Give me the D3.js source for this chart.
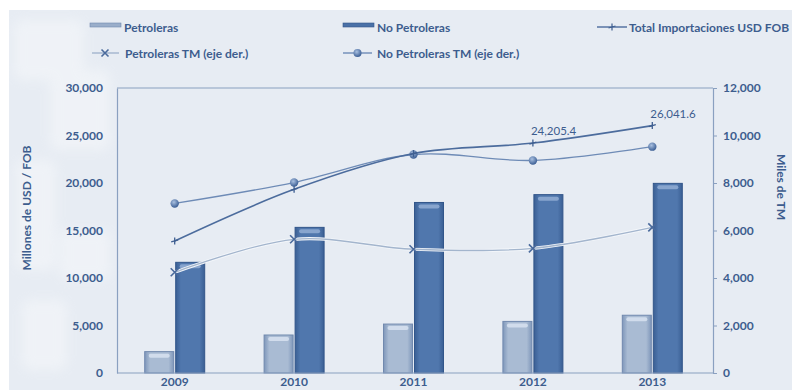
<!DOCTYPE html>
<html>
<head>
<meta charset="utf-8">
<script src="https://cdn.jsdelivr.net/npm/d3@7"></script>
<style>
  html, body { margin: 0; padding: 0; background: #ffffff; }
  svg { display: block; font-family: Lato, "Open Sans", sans-serif; }
</style>
</head>
<body>
<svg id="chart" width="792" height="390"></svg>
<script>
// Importaciones: valores en millones de USD FOB (eje izq.) y volumen en miles de TM (eje der.)
const years = ["2009", "2010", "2011", "2012", "2013"];
const petroleras = [2250, 4000, 5150, 5430, 6080];
const noPetroleras = [11650, 15330, 17950, 18775.4, 19961.6];
const totalUSD = [13900, 19330, 23100, 24205.4, 26041.6];
const petrolerasTM = [4240, 5630, 5210, 5250, 6130];
const noPetrolerasTM = [7140, 8020, 9200, 8950, 9530];
const labeledYears = ["2012", "2013"];
const leftTicks = [0, 5000, 10000, 15000, 20000, 25000, 30000];
const rightTicks = [0, 2000, 4000, 6000, 8000, 10000, 12000];

const svg = d3.select("#chart");
const W = 792, H = 390;
const plot = { left: 117, right: 713, top: 88, bottom: 373 };
const textColor = "#3d5d8e";
const axisColor = "#8aa0c0";

const defs = svg.append("defs");
defs.append("filter").attr("id", "soft").append("feGaussianBlur").attr("stdDeviation", 6);

// background panel
svg.append("rect").attr("width", W).attr("height", H).attr("fill", "#ffffff");
svg.append("rect").attr("x", 9).attr("y", 10).attr("width", W - 9).attr("height", H - 10).attr("fill", "#e7ecf3");

// faint decorative shapes on the left of the panel
const deco = svg.append("g").attr("fill", "#ffffff").attr("opacity", 0.35).attr("filter", "url(#soft)");
[[14, 20, 70, 60], [50, 70, 60, 80], [16, 160, 40, 110], [60, 230, 50, 50], [22, 300, 45, 70]].forEach(d => {
  deco.append("rect").attr("x", d[0]).attr("y", d[1]).attr("width", d[2]).attr("height", d[3]).attr("rx", 8);
});

function barGradient(id, edge, mid) {
  const g = defs.append("linearGradient").attr("id", id).attr("x1", 0).attr("x2", 1).attr("y1", 0).attr("y2", 0);
  g.append("stop").attr("offset", "0%").attr("stop-color", edge);
  g.append("stop").attr("offset", "18%").attr("stop-color", mid);
  g.append("stop").attr("offset", "82%").attr("stop-color", mid);
  g.append("stop").attr("offset", "100%").attr("stop-color", edge);
}
barGradient("gPet", "#7f97ba", "#a9bbd3");
barGradient("gNoPet", "#3a5f94", "#5077ad");
const sphere = defs.append("radialGradient").attr("id", "gSphere").attr("cx", "40%").attr("cy", "35%").attr("r", "65%");
sphere.append("stop").attr("offset", "0%").attr("stop-color", "#a9c0e0");
sphere.append("stop").attr("offset", "100%").attr("stop-color", "#3c5f95");

// scales
const x = d3.scaleBand().domain(years).range([115, 712]).paddingInner(0).paddingOuter(0);
const yL = d3.scaleLinear().domain([0, 30000]).range([plot.bottom, plot.top]);
const yR = d3.scaleLinear().domain([0, 12000]).range([plot.bottom, plot.top]);
const barW = 29, gap = 2;
const sub = d3.scaleOrdinal().domain(["pet", "nopet"]).range([-gap / 2 - barW, gap / 2]);

// plot frame
svg.append("line").attr("x1", plot.left).attr("x2", plot.right).attr("y1", plot.top).attr("y2", plot.top)
  .attr("stroke", axisColor).attr("stroke-width", 1.2);

// bars
const series = [
  { key: "pet", values: petroleras, fill: "url(#gPet)", stroke: "#7189ae", hi: "#d5e0ee" },
  { key: "nopet", values: noPetroleras, fill: "url(#gNoPet)", stroke: "#32568a", hi: "#8eaad2" }
];
series.forEach(s => {
  const g = svg.append("g");
  years.forEach((yr, i) => {
    const bx = x(yr) + x.bandwidth() / 2 + sub(s.key);
    const top = yL(s.values[i]);
    g.append("rect").attr("x", bx).attr("y", top).attr("width", barW).attr("height", yL(0) - top)
      .attr("fill", s.fill).attr("stroke", s.stroke).attr("stroke-width", 1);
    g.append("rect").attr("x", bx + 4).attr("y", top + 2).attr("width", barW - 8).attr("height", 4)
      .attr("rx", 2).attr("fill", s.hi).attr("opacity", 0.9);
  });
});

// axes
const leftAxis = svg.append("g").attr("transform", `translate(${plot.left},0)`)
  .call(d3.axisLeft(yL).tickValues(leftTicks).tickFormat(d3.format(",")).tickSize(0).tickPadding(14));
const rightAxis = svg.append("g").attr("transform", `translate(${plot.right},0)`)
  .call(d3.axisRight(yR).tickValues(rightTicks).tickFormat(d3.format(",")).tickSize(4).tickSizeOuter(0).tickPadding(6));
const bottomAxis = svg.append("g").attr("transform", `translate(0,${plot.bottom})`)
  .call(d3.axisBottom(x).tickSize(0).tickPadding(4));
[leftAxis, rightAxis, bottomAxis].forEach(a => {
  a.select(".domain").attr("stroke", axisColor).attr("stroke-width", 1.2);
  a.selectAll(".tick line").attr("stroke", axisColor);
  a.selectAll("text").attr("fill", textColor).attr("font-size", 12).attr("font-weight", 700)
    .attr("font-family", "Lato, 'Open Sans', sans-serif");
});
bottomAxis.select(".domain").attr("d", `M${plot.left},0H${plot.right}`);

// lines
const lineGen = scale => d3.line()
  .x((d, i) => x(years[i]) + x.bandwidth() / 2)
  .y(d => scale(d))
  .curve(d3.curveCatmullRom.alpha(0.5));

function pos(scale, vals) {
  return vals.map((v, i) => [x(years[i]) + x.bandwidth() / 2, scale(v)]);
}

// Petroleras TM
svg.append("path").datum(petrolerasTM).attr("d", lineGen(yR))
  .attr("fill", "none").attr("stroke", "#f3f6fa").attr("stroke-width", 3.2);
svg.append("path").datum(petrolerasTM).attr("d", lineGen(yR))
  .attr("fill", "none").attr("stroke", "#a3b5cd").attr("stroke-width", 1.3);
pos(yR, petrolerasTM).forEach(([px, py]) => {
  svg.append("path").attr("d", `M${px - 4},${py - 4}L${px + 4},${py + 4}M${px - 4},${py + 4}L${px + 4},${py - 4}`)
    .attr("stroke", "#4a6a9c").attr("stroke-width", 1.6);
});

// No Petroleras TM
svg.append("path").datum(noPetrolerasTM).attr("d", lineGen(yR))
  .attr("fill", "none").attr("stroke", "#6e8bb6").attr("stroke-width", 1.3);
pos(yR, noPetrolerasTM).forEach(([px, py]) => {
  svg.append("circle").attr("cx", px).attr("cy", py).attr("r", 4.2).attr("fill", "url(#gSphere)");
});

// Total Importaciones USD FOB
svg.append("path").datum(totalUSD).attr("d", lineGen(yL))
  .attr("fill", "none").attr("stroke", "#4c6c9d").attr("stroke-width", 1.6);
pos(yL, totalUSD).forEach(([px, py]) => {
  svg.append("path").attr("d", `M${px - 3.5},${py + 1}L${px + 3.5},${py - 1}M${px},${py - 3.5}L${px},${py + 3.5}`)
    .attr("stroke", "#3f5f91").attr("stroke-width", 1.3);
});

// value labels
const fmt = d3.format(",.1f");
years.forEach((yr, i) => {
  if (!labeledYears.includes(yr)) return;
  svg.append("text").attr("x", x(yr) + x.bandwidth() / 2 - 2).attr("y", yL(totalUSD[i]) - 8)
    .attr("fill", textColor).attr("font-size", 11.5).text(fmt(totalUSD[i]));
});

// axis titles
svg.append("text").attr("transform", "translate(31,208) rotate(-90)").attr("text-anchor", "middle")
  .attr("fill", textColor).attr("font-size", 12).attr("font-weight", 700).text("Millones de USD / FOB");
svg.append("text").attr("transform", "translate(777,187) rotate(90)").attr("text-anchor", "middle")
  .attr("fill", textColor).attr("font-size", 12).attr("font-weight", 700).text("Miles de TM");

// legend
const legend = svg.append("g").attr("font-size", 12).attr("font-weight", 700).attr("fill", textColor);
function legendText(lx, ly, label) {
  legend.append("text").attr("x", lx).attr("y", ly).attr("fill", textColor).text(label);
}
legend.append("rect").attr("x", 90).attr("y", 23).attr("width", 31).attr("height", 4).attr("fill", "#9aaeca").attr("stroke", "#7189ae").attr("stroke-width", 0.6);
legendText(124, 32, "Petroleras");
legend.append("rect").attr("x", 343).attr("y", 23).attr("width", 31).attr("height", 4).attr("fill", "#4a71a7").attr("stroke", "#32568a").attr("stroke-width", 0.6);
legendText(377, 32, "No Petroleras");
legend.append("line").attr("x1", 597).attr("x2", 627).attr("y1", 27).attr("y2", 27).attr("stroke", "#4c6c9d").attr("stroke-width", 1.4);
legend.append("path").attr("d", "M608.5,28L615.5,26M612,23.5L612,30.5").attr("stroke", "#3f5f91").attr("stroke-width", 1.2);
legendText(629, 32, "Total Importaciones USD FOB");

legend.append("line").attr("x1", 92).attr("x2", 119).attr("y1", 53).attr("y2", 53).attr("stroke", "#a3b5cd").attr("stroke-width", 1.4);
legend.append("path").attr("d", "M101.5,49.5L108.5,56.5M101.5,56.5L108.5,49.5").attr("stroke", "#4a6a9c").attr("stroke-width", 1.6);
legendText(125, 58, "Petroleras TM (eje der.)");
legend.append("line").attr("x1", 343).attr("x2", 372).attr("y1", 53).attr("y2", 53).attr("stroke", "#6e8bb6").attr("stroke-width", 1.4);
legend.append("circle").attr("cx", 357.5).attr("cy", 53).attr("r", 4).attr("fill", "url(#gSphere)");
legendText(377, 58, "No Petroleras TM (eje der.)");
</script>
</body>
</html>
